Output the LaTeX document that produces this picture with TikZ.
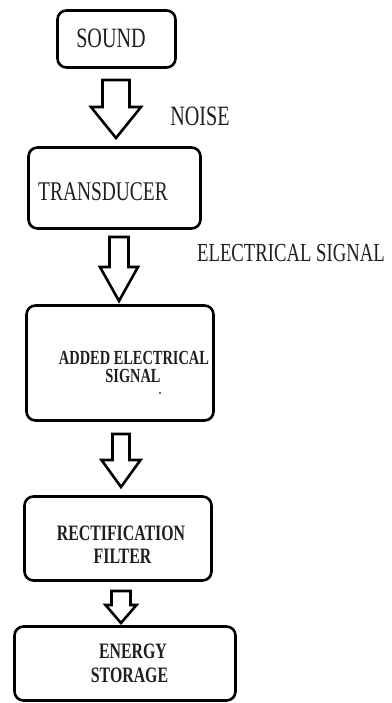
\documentclass[tikz,border=0pt]{standalone}
\usepackage{fontspec}
\setmainfont{Liberation Serif}[FakeStretch=0.72]
\begin{document}
\begin{tikzpicture}[x=1pt,y=-1pt,
  box/.style={draw=black,line width=2.6pt,rounded corners=9pt,inner sep=0pt},
  arr/.style={draw=black,line width=2.6pt,line join=miter,fill=white},
  lbl/.style={inner sep=0pt,text depth=0pt,text=black!88}]
\useasboundingbox (0,0) rectangle (391,703);
\newcommand\myblockarrow[6]{\draw[arr] (#1-#2,#4) -- (#1+#2,#4) -- (#1+#2,#5) -- (#1+#3,#5) -- (#1,#6) -- (#1-#3,#5) -- (#1-#2,#5) -- cycle;}
% boxes
\node[box,minimum width=118pt,minimum height=57pt] (sound) at (116.5,39) {};
\node[box,minimum width=172pt,minimum height=81pt] (trans) at (114.5,188) {};
\node[box,minimum width=187pt,minimum height=115pt] (added) at (120,363) {};
\node[box,minimum width=187pt,minimum height=84pt] (rect) at (118,538.5) {};
\node[box,minimum width=221pt,minimum height=74pt] (energy) at (125,663.5) {};
% block arrows
\myblockarrow{116}{13.5}{25}{80}{107}{138}
\myblockarrow{119}{9.5}{19}{237}{267}{301}
\myblockarrow{121}{8.5}{19.5}{434}{460}{487}
\myblockarrow{121}{9.5}{15.5}{591}{605}{623}
% texts
\node[lbl,font=\fontsize{28}{30}\selectfont] (tsound) at (111,38) {SOUND};
\node[lbl,font=\fontsize{28}{30}\selectfont] (tnoise) at (200,116) {NOISE};
\node[lbl,font=\fontsize{27}{29}\selectfont] (ttrans) at (103,192) {TRANSDUCER};
\node[lbl,font=\fontsize{26}{28}\selectfont] (telec) at (291,253) {ELECTRICAL SIGNAL};
\node[lbl,font=\fontsize{20}{22}\selectfont\bfseries] (tadd1) at (134,357.5) {ADDED ELECTRICAL};
\node[lbl,font=\fontsize{20}{22}\selectfont\bfseries] (tadd2) at (133,376) {SIGNAL};
\fill[black!80] (160,393) circle (1.1);
\node[lbl,font=\fontsize{22}{24}\selectfont\bfseries] (trect1) at (121,533.5) {RECTIFICATION};
\node[lbl,font=\fontsize{22}{24}\selectfont\bfseries] (trect2) at (122.5,556) {FILTER};
\node[lbl,font=\fontsize{22}{24}\selectfont\bfseries] (tene1) at (133,651) {ENERGY};
\node[lbl,font=\fontsize{22}{24}\selectfont\bfseries] (tene2) at (129.5,675.5) {STORAGE};
\end{tikzpicture}
\end{document}
